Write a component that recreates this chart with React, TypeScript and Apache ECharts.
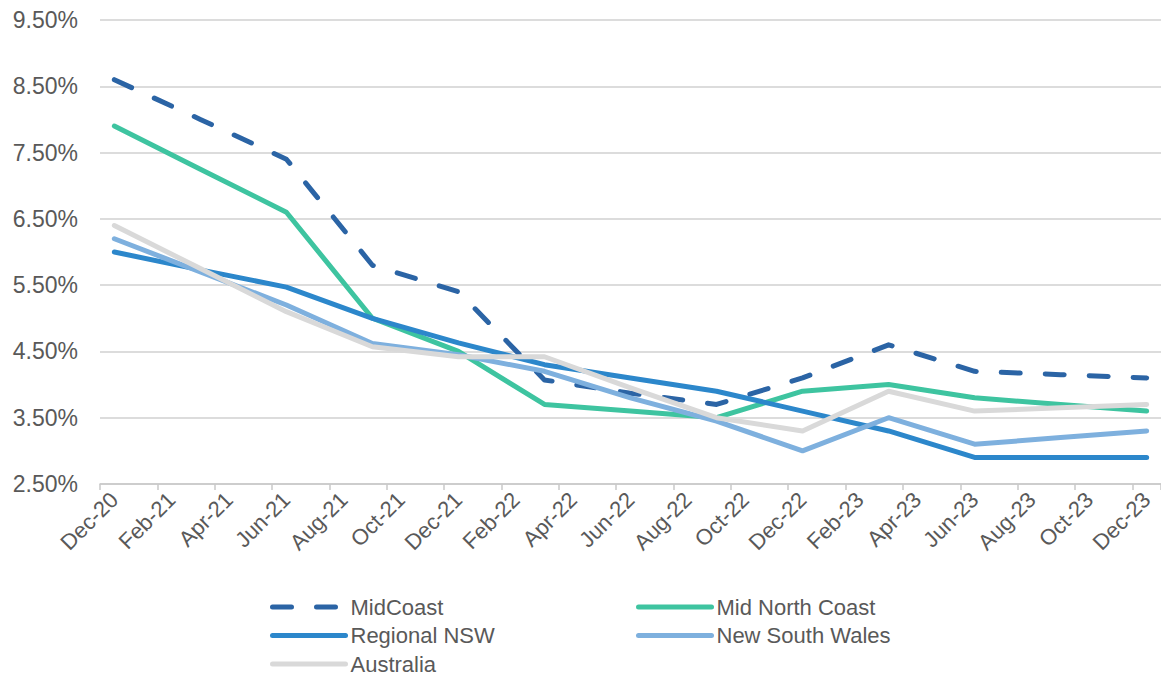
import React, { useEffect, useRef } from "react";
import * as echarts from "echarts";

const months = [
  "Dec-20", "Jan-21", "Feb-21", "Mar-21", "Apr-21", "May-21", "Jun-21", "Jul-21", "Aug-21", "Sep-21",
  "Oct-21", "Nov-21", "Dec-21", "Jan-22", "Feb-22", "Mar-22", "Apr-22", "May-22", "Jun-22", "Jul-22",
  "Aug-22", "Sep-22", "Oct-22", "Nov-22", "Dec-22", "Jan-23", "Feb-23", "Mar-23", "Apr-23", "May-23",
  "Jun-23", "Jul-23", "Aug-23", "Sep-23", "Oct-23", "Nov-23", "Dec-23",
];

const quarters = [
  "Dec-20", "Mar-21", "Jun-21", "Sep-21", "Dec-21", "Mar-22", "Jun-22",
  "Sep-22", "Dec-22", "Mar-23", "Jun-23", "Sep-23", "Dec-23",
];

const midCoast = [8.6, 8.0, 7.4, 5.8, 5.4, 4.07, 3.87, 3.7, 4.1, 4.6, 4.2, 4.15, 4.1];
const midNorthCoast = [7.9, 7.25, 6.6, 5.0, 4.5, 3.7, 3.6, 3.5, 3.9, 4.0, 3.8, 3.7, 3.6];
const regionalNSW = [6.0, 5.73, 5.47, 5.0, 4.63, 4.3, 4.1, 3.9, 3.6, 3.3, 2.9, 2.9, 2.9];
const newSouthWales = [6.2, 5.7, 5.2, 4.62, 4.45, 4.2, 3.8, 3.45, 3.0, 3.5, 3.1, 3.2, 3.3];
const australia = [6.4, 5.75, 5.1, 4.57, 4.42, 4.42, 3.95, 3.5, 3.3, 3.9, 3.6, 3.65, 3.7];

const yTickLabels = ["2.50%", "3.50%", "4.50%", "5.50%", "6.50%", "7.50%", "8.50%", "9.50%"];

const FONT = '"Liberation Sans", Arial, sans-serif';
const TEXT = "#595959";

function pairs(vals: number[]) {
  return quarters.map((q, i) => [q, vals[i]]);
}

export default function App() {
  const ref = useRef<HTMLDivElement>(null);

  useEffect(() => {
    if (!ref.current) return;
    const chart = echarts.init(ref.current, undefined, { renderer: "svg" });

    const mk = (name: string, vals: number[], color: string, dashed = false) => ({
      name,
      type: "line",
      data: pairs(vals),
      symbol: "none",
      showSymbol: false,
      connectNulls: true,
      lineStyle: {
        color,
        width: 5,
        type: dashed ? [19, 25] : "solid",
        cap: "round",
        join: "round",
      },
      itemStyle: { color },
      emphasis: { disabled: true },
    });

    const legendBase = {
      orient: "vertical",
      top: 595,
      height: 120,
      padding: 0,
      itemWidth: 73,
      itemHeight: 14,
      itemGap: 4.5,
      selectedMode: false,
      itemStyle: { opacity: 0, color: "rgba(0,0,0,0)", borderWidth: 0 },
      lineStyle: { width: 5, cap: "round" },
      textStyle: { color: TEXT, fontSize: 22, fontFamily: FONT, lineHeight: 24 },
    };

    chart.setOption({
      animation: false,
      textStyle: { fontFamily: FONT },
      grid: { left: 100, right: -4, top: 20, bottom: 193, containLabel: false },
      xAxis: {
        type: "category",
        data: months,
        boundaryGap: true,
        axisLine: { show: true, lineStyle: { color: "#C8C8C8", width: 1.5 } },
        axisTick: {
          show: true,
          interval: 1,
          alignWithLabel: false,
          length: 6,
          lineStyle: { color: "#C8C8C8", width: 1.5 },
        },
        axisLabel: {
          interval: 1,
          rotate: 45,
          margin: 12,
          color: TEXT,
          fontSize: 22,
          fontFamily: FONT,
        },
        splitLine: { show: false },
      },
      yAxis: {
        type: "value",
        min: 2.5,
        max: 9.5,
        interval: 0.5,
        axisLine: { show: false },
        axisTick: { show: false },
        axisLabel: {
          margin: 22,
          color: TEXT,
          fontSize: 23,
          fontFamily: FONT,
          formatter: (v: number) => {
            const k = Math.round(v - 2.5);
            if (Math.abs(v - 2.5 - k) < 1e-6 && k >= 0 && k < yTickLabels.length) return yTickLabels[k];
            return "";
          },
        },
        splitLine: {
          show: true,
          lineStyle: { color: ["#D0D0D0", "rgba(0,0,0,0)"], width: 1.5 },
        },
      },
      legend: [
        { ...legendBase, left: 270, data: ["MidCoast", "Regional NSW", "Australia"] },
        { ...legendBase, left: 636, data: ["Mid North Coast", "New South Wales"] },
      ],
      series: [
        mk("MidCoast", midCoast, "#2B64A5", true),
        mk("Mid North Coast", midNorthCoast, "#3EC4A0"),
        mk("Regional NSW", regionalNSW, "#2C87CB"),
        mk("New South Wales", newSouthWales, "#7EB0DE"),
        mk("Australia", australia, "#D9D9D9"),
      ],
    });

    return () => chart.dispose();
  }, []);

  return (
    <div
      ref={ref}
      style={{ position: "fixed", left: 0, top: 0, width: 1161, height: 677, background: "#fff" }}
    />
  );
}
